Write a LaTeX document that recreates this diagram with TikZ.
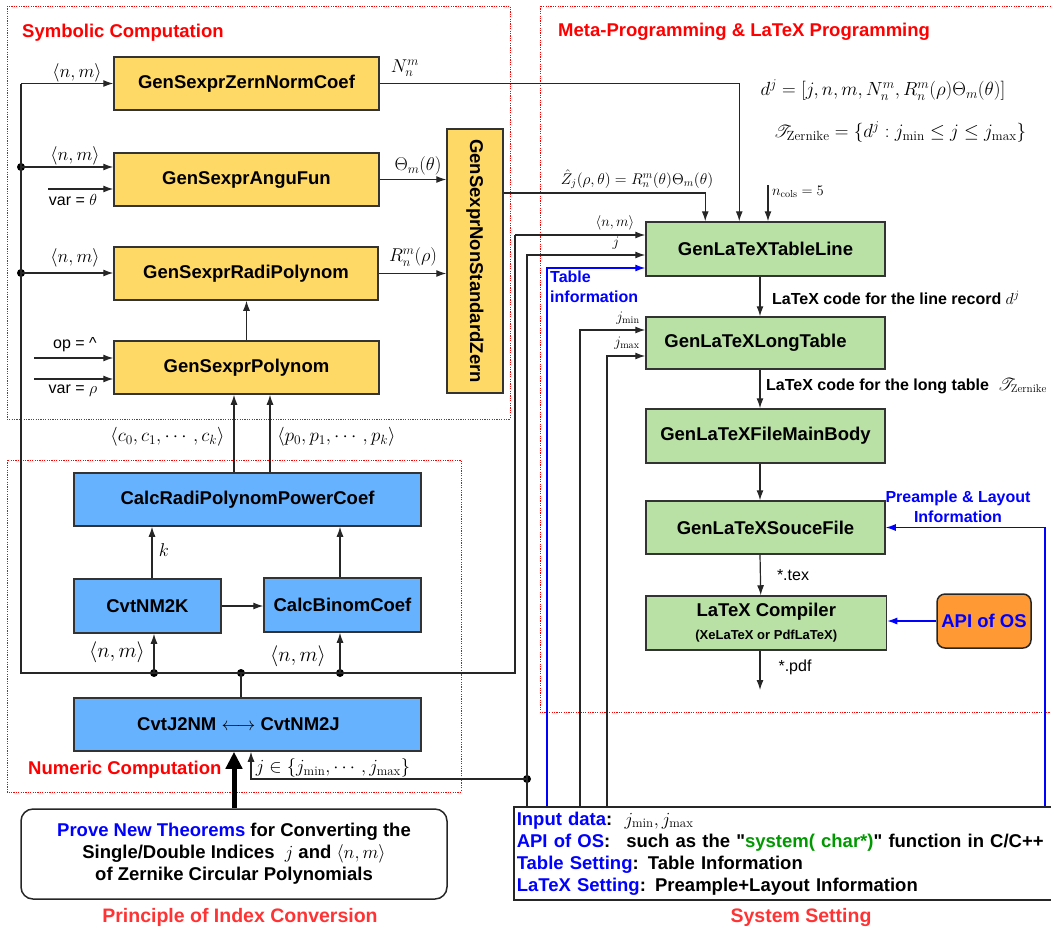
\RequirePackage{fix-cm}
\documentclass[tikz,border=0pt]{standalone}
\usepackage{amsmath,amssymb,mathrsfs}
\usepackage{fontspec}
\setsansfont{Liberation Sans}[Ligatures=TeXOff]
\usetikzlibrary{arrows.meta,calc}
\definecolor{yel}{HTML}{FFD966}
\definecolor{blu}{HTML}{66B2FF}
\definecolor{grn}{HTML}{B9E0A5}
\definecolor{org}{HTML}{FF9933}
\definecolor{grt}{HTML}{009900}
\definecolor{lred}{HTML}{FF3333}
\newcommand\bsf{\sffamily\bfseries\fontsize{18.5}{22}\selectfont}
\tikzset{
  box/.style={draw=black!80, line width=1.5pt, inner sep=0pt, align=center, font=\bsf},
  ybox/.style={box, fill=yel},
  bbox/.style={box, fill=blu},
  gbox/.style={box, fill=grn},
  ln/.style={draw=black!85, line width=1.2pt},
  arr/.style={ln, -{Latex[length=10pt,width=7pt]}},
  barr/.style={arr, draw=blue},
  frm/.style={draw=red, line width=1pt, dash pattern=on 1.2pt off 1.2pt},
  dot/.style={circle, fill=black, inner sep=0pt, minimum size=8pt},
  ttl/.style={text=red, font=\bsf, inner sep=0pt},
  btl/.style={text=lred, font=\sffamily\bfseries\fontsize{19.5}{22}\selectfont, inner sep=0pt},
  lab/.style={inner sep=0pt, font=\fontsize{18.5}{20}\selectfont},
  slab/.style={inner sep=0pt, font=\sffamily\fontsize{16}{18}\selectfont},
  blab/.style={inner sep=0pt, font=\sffamily\bfseries\fontsize{16}{20}\selectfont},
  sml/.style={inner sep=0pt, font=\fontsize{14.5}{16}\selectfont},
}
\begin{document}
\begin{tikzpicture}[x=1pt,y=-1pt]
\useasboundingbox (0,0) rectangle (1051,930);
% frames
\draw[frm] (7,6) rectangle (510,419);
\draw[frm] (540,6) rectangle (1065,712);
\draw[frm] (7,460) rectangle (461,792);
\node[ttl, anchor=west] (tsym) at (22,33) {Symbolic Computation};
\node[ttl, anchor=west] (tmeta) at (558,32) {Meta-Programming \& LaTeX Programming};
\node[ttl, anchor=west] (tnum) at (28,770) {Numeric Computation};
\node[btl] (tpri) at (240,917) {Principle of Index Conversion};
\node[btl] (tsys) at (801,917) {System Setting};

% yellow boxes
\node[ybox, minimum width=265pt, minimum height=53pt] (zn) at (246.5,83.5) {GenSexprZernNormCoef};
\node[ybox, minimum width=265pt, minimum height=53pt] (ang) at (246.5,179.5) {GenSexprAnguFun};
\node[ybox, minimum width=264pt, minimum height=53pt] (rad) at (246,273.5) {GenSexprRadiPolynom};
\node[ybox, minimum width=265pt, minimum height=53pt] (poly) at (246.5,367.5) {GenSexprPolynom};
\node[ybox, minimum width=56pt, minimum height=264pt,
  label={[rotate=-90, font=\bsf, inner sep=0pt]center:GenSexprNonStandardZern}] (nsz) at (475,261) {};

% blue boxes
\node[bbox, minimum width=347pt, minimum height=53pt] (crp) at (247.5,499.5) {CalcRadiPolynomPowerCoef};
\node[bbox, minimum width=147pt, minimum height=54pt] (nm2k) at (147.5,606) {CvtNM2K};
\node[bbox, minimum width=157pt, minimum height=54pt] (binom) at (342.5,605) {CalcBinomCoef};
\node[bbox, minimum width=347pt, minimum height=53pt] (j2nm) at (247.5,724.5) {CvtJ2NM $\longleftrightarrow$ CvtNM2J\hspace*{18pt}};

% green boxes
\node[gbox, minimum width=239pt, minimum height=54pt] (tl) at (765.5,249) {GenLaTeXTableLine};
\node[gbox, minimum width=239pt, minimum height=52pt] (lt) at (765.5,343) {GenLaTeXLongTable\hspace*{20pt}};
\node[gbox, minimum width=239pt, minimum height=54pt] (mb) at (765.5,436) {GenLaTeXFileMainBody};
\node[gbox, minimum width=239pt, minimum height=53pt] (sf) at (765.5,527.5) {GenLaTeXSouceFile};
\node[gbox, minimum width=240.5pt, minimum height=54pt] (cc) at (766.25,623)
  {LaTeX Compiler\\[1pt]{\fontsize{13}{15}\selectfont (XeLaTeX or PdfLaTeX)}};
\node[draw=black!85, line width=1.5pt, fill=org, rounded corners=8pt, inner sep=0pt,
  minimum width=94pt, minimum height=54pt, font=\bsf, text=blue] (api) at (984,621) {API of OS};

% prove box and system box
\node[draw=black!85, line width=1.5pt, rounded corners=12pt, minimum width=426pt, minimum height=90pt,
  align=center, font=\bsf, inner sep=0pt] (prove) at (234,854)
  {\textcolor{blue}{Prove New Theorems} for Converting the\\
   Single/Double Indices\ \ $j$ and $\langle n,m\rangle$\\
   of Zernike Circular Polynomials};
\node[draw=black!85, line width=1.5pt, anchor=north west, inner xsep=3pt, inner ysep=0pt,
  text width=541pt, minimum height=93pt, align=left, font=\bsf] (sys) at (513,806)
  {\textcolor{blue}{Input data}:\ \ $j_{\min},j_{\max}$\\
   \textcolor{blue}{API of OS}:\hspace{16pt}such as the "\textcolor{grt}{system( char*)}" function in C/C++\\
   \textcolor{blue}{Table Setting}: Table Information\\
   \textcolor{blue}{LaTeX Setting}: Preample+Layout Information};

% bus
\coordinate (bt) at (21,83.5);
\node[dot] (da) at (21,167) {};
\node[dot] (db) at (21,273) {};
\coordinate (bl) at (21,673);
\node[dot] (d1) at (154,673) {};
\node[dot] (d2) at (241,673) {};
\node[dot] (d3) at (340,673) {};
\coordinate (br) at (515,673);
\coordinate (bu) at (515,235);
\draw[ln] (bt) -- (bl) -- (br) -- (bu);
\draw[arr] (bt) -- (zn.west);
\draw[arr] (da.center) -- (da.center -| ang.west);
\draw[arr] (db.center) -- (db.center -| rad.west);
\draw[arr] (bu) -- (bu -| tl.west);
\coordinate (vt) at (48,189);
\draw[arr] (vt) -- (vt -| ang.west);
\coordinate (opc) at (34,358);
\coordinate (vr) at (34,379);
\draw[arr] (opc) -- (opc -| poly.west);
\draw[arr] (vr) -- (vr -| poly.west);

% outputs of yellow
\draw[arr] (zn.east) -| ([xshift=94pt]tl.north west);
\draw[arr] (ang.east) -- (ang.east -| nsz.west);
\draw[arr] (rad.east) -- (rad.east -| nsz.west);
\draw[arr] ([yshift=68pt]nsz.east) -| ([xshift=60pt]tl.north west);
\coordinate (nc) at (768,185);
\draw[arr] (nc) -- (nc |- tl.north);
\draw[arr] (poly.north) -- (poly.north |- rad.south);

% numeric
\draw[arr] ([xshift=-13.5pt]crp.north) -- ([xshift=-13.5pt]crp.north |- poly.south);
\draw[arr] ([xshift=22.5pt]crp.north) -- ([xshift=22.5pt]crp.north |- poly.south);
\draw[arr] ([xshift=4.5pt]nm2k.north) -- ([xshift=4.5pt]nm2k.north |- crp.south);
\draw[arr] ([xshift=-2.5pt]binom.north) -- ([xshift=-2.5pt]binom.north |- crp.south);
\draw[arr] (nm2k.east) -- (nm2k.east -| binom.west);
\draw[arr] (d1.center) -- (d1.center |- nm2k.south);
\draw[arr] (d3.center) -- (d3.center |- binom.south);
\draw[ln] (d2 |- j2nm.north) -- (d2.center);
\draw[line width=5pt, draw=black, -{Triangle[length=17pt,width=16pt]}] (prove.north) -- (prove.north |- j2nm.south);

% system inputs
\coordinate (sj) at (527,806);
\node[dot] (jd) at (527,779) {};
\draw[arr] (sj) |- ([yshift=-6pt]tl.west);
\draw[arr] (jd.center) -| ([xshift=3.5pt]j2nm.south);
\coordinate (sb) at (547,806);
\draw[barr] (sb) |- ([yshift=-19pt]tl.west);
\coordinate (smin) at (580,806);
\draw[arr] (smin) |- ([yshift=13pt]lt.west);
\coordinate (smax) at (607,806);
\draw[arr] (smax) |- ([yshift=-13pt]lt.west);
\coordinate (sp) at (1045,806);
\draw[barr] (sp) |- (sf.east);
\draw[barr] (api.west) -- (api.west -| cc.east);

% green chain
\draw[arr] ([xshift=-5.5pt]tl.south) -- ([xshift=-5.5pt]lt.north);
\draw[arr] ([xshift=-5.5pt]lt.south) -- ([xshift=-5.5pt]mb.north);
\draw[arr] ([xshift=-5.5pt]mb.south) -- ([xshift=-5.5pt]sf.north);
\draw[arr] ([xshift=-5.5pt]sf.south) -- ([xshift=-5.5pt]cc.north);
\coordinate (pdf) at (760,690);
\draw[arr] ([xshift=-6.25pt]cc.south) -- (pdf);

% labels
\node[lab] (l1) at (77,73) {$\langle n,m\rangle$};
\node[lab] (l2) at (75,156) {$\langle n,m\rangle$};
\node[lab] (l3) at (75,258) {$\langle n,m\rangle$};
\node[slab] (l4) at (73,200) {var = $\theta$};
\node[slab] (l5) at (75,345) {op = \textasciicircum};
\node[slab] (l6) at (73,391) {var = $\rho$};
\node[lab] (l7) at (405,68) {$N_n^m$};
\node[lab] (l8) at (418,166) {$\Theta_m(\theta)$};
\node[lab] (l9) at (413,257) {$R_n^m(\rho)$};
\node[lab, font=\fontsize{15.5}{17}\selectfont] (l10) at (637,179) {$\hat{Z}_j(\rho,\theta)=R_n^m(\theta)\Theta_m(\theta)$};
\node[lab, font=\fontsize{19}{21}\selectfont] (l11) at (883,90) {$d^j=[j,n,m,N_n^m,R_n^m(\rho)\Theta_m(\theta)]$};
\node[lab, font=\fontsize{19}{21}\selectfont] (l12) at (900,132) {$\mathscr{T}_{\mathrm{Zernike}}=\{d^j:j_{\min}\le j\le j_{\max}\}$};
\node[sml, anchor=west] (l13) at (772,192) {$n_{\mathrm{cols}}=5$};
\node[sml] (l14) at (615,223) {$\langle n,m\rangle$};
\node[sml] (l15) at (616,243) {$j$};
\node[sml] (l16) at (628,318) {$j_{\min}$};
\node[sml] (l17) at (627,343) {$j_{\max}$};
\node[blab, text=blue, align=left, anchor=west] (tinfo) at (550,287) {Table\\information};
\node[blab, anchor=west] (l18) at (772,298) {LaTeX code for the line record $d^j$};
\node[blab, anchor=west] (l19) at (766,386) {LaTeX code for the long table\ \ $\mathscr{T}_{\mathrm{Zernike}}$};
\node[blab, text=blue, align=center] (pinfo) at (958,507) {Preample \& Layout\\Information};
\node[slab] (l20) at (793,575) {*.tex};
\node[slab] (l21) at (795,667) {*.pdf};
\node[lab, font=\fontsize{19}{21}\selectfont] (l22) at (167.5,437) {$\langle c_0,c_1,\cdots,c_k\rangle$};
\node[lab, font=\fontsize{19}{21}\selectfont] (l23) at (336.5,437) {$\langle p_0,p_1,\cdots,p_k\rangle$};
\node[lab] (l24) at (164,550) {$k$};
\node[lab, font=\fontsize{21}{23}\selectfont] (l25) at (117,652) {$\langle n,m\rangle$};
\node[lab, font=\fontsize{21}{23}\selectfont] (l26) at (298,656) {$\langle n,m\rangle$};
\node[lab, font=\fontsize{18.5}{20}\selectfont] (l27) at (333,768) {$j\in\{j_{\min},\cdots,j_{\max}\}$};
\end{tikzpicture}
\end{document}
